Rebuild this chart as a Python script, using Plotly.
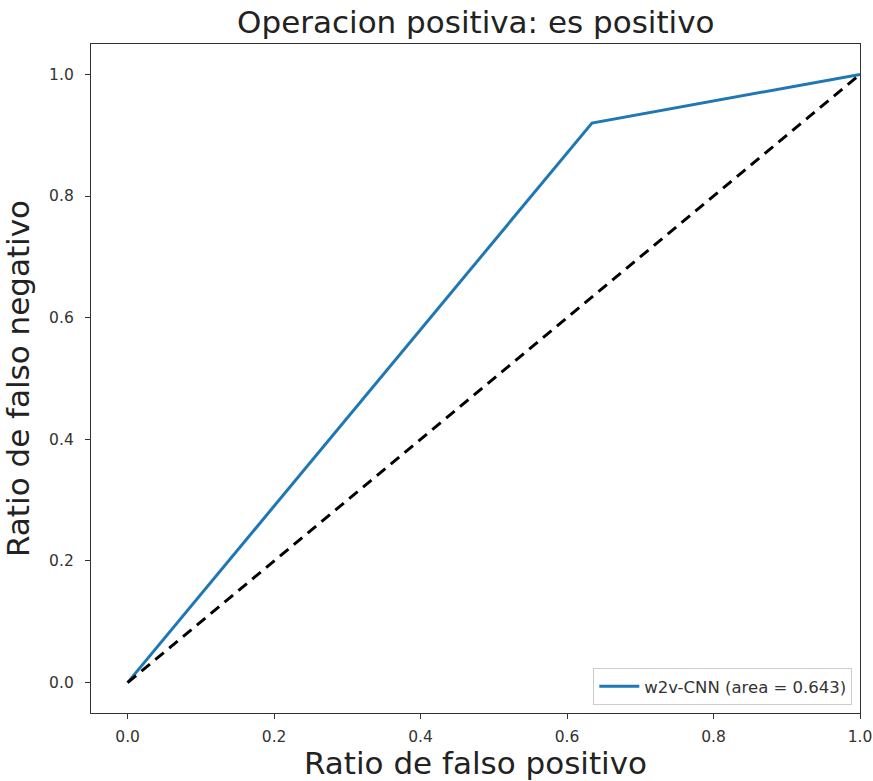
import plotly.graph_objects as go

# ROC curve points for the w2v-CNN classifier
fpr = [0.0, 0.634, 1.0]
tpr = [0.0, 0.920, 1.0]
auc_value = 0.643

# chance diagonal
diag_x = [0.0, 1.0]
diag_y = [0.0, 1.0]

tick_vals = [0.0, 0.2, 0.4, 0.6, 0.8, 1.0]
tick_text = ["0.0", "0.2", "0.4", "0.6", "0.8", "1.0"]

fig = go.Figure()
fig.add_trace(go.Scatter(
    x=fpr, y=tpr, mode="lines",
    line=dict(color="#1f77b4", width=3),
    name=f"w2v-CNN (area = {auc_value:.3f})",
))
fig.add_trace(go.Scatter(
    x=diag_x, y=diag_y, mode="lines",
    line=dict(color="black", width=3, dash="11px,7px"),
    showlegend=False,
))

axis_common = dict(
    showgrid=False, zeroline=False, automargin=False,
    showline=True, linecolor="#333333", linewidth=1.3, mirror=True,
    ticks="outside", ticklen=5, tickwidth=1.2, tickcolor="#333333",
    tickvals=tick_vals, ticktext=tick_text,
    tickfont=dict(family="DejaVu Sans", size=15.5, color="#333333"),
)

fig.update_layout(
    width=873, height=781,
    margin=dict(l=91, r=13, t=44, b=68),
    paper_bgcolor="white", plot_bgcolor="white",
    font=dict(family="DejaVu Sans", color="#222222"),
    title=dict(text="Operacion positiva: es positivo", x=0.545, xanchor="center",
               y=0.972, yanchor="middle", font=dict(size=31, color="#222222")),
    xaxis=dict(range=[-0.05, 1.0], ticklabelstandoff=4,
               title=dict(text="Ratio de falso positivo", font=dict(size=31), standoff=5),
               **axis_common),
    yaxis=dict(range=[-0.05, 1.05], ticklabelstandoff=8,
               title=dict(text="Ratio de falso negativo", font=dict(size=31), standoff=10),
               **axis_common),
    legend=dict(x=0.99, y=0.012, xanchor="right", yanchor="bottom",
                bgcolor="rgba(255,255,255,0.8)", bordercolor="#cccccc", borderwidth=1,
                itemwidth=40, font=dict(size=16.5, color="#333333")),
    showlegend=True,
)

fig.write_html("out.html")
